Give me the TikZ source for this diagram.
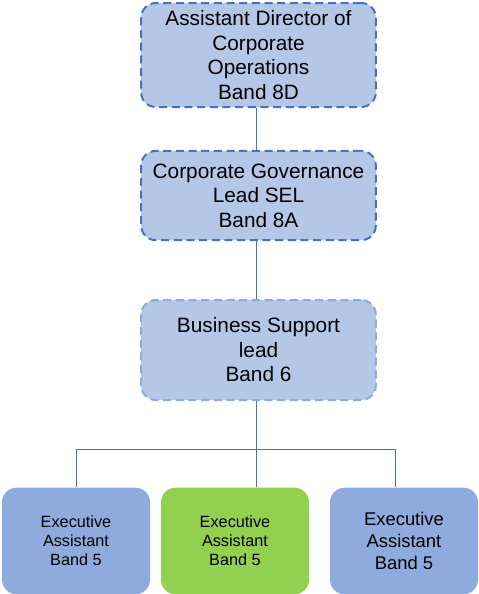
\documentclass[tikz,border=0pt]{standalone}
\usepackage{fontspec}
\setmainfont{Liberation Sans}
\usetikzlibrary{positioning}
\definecolor{darkblue}{HTML}{4472C4}
\definecolor{paleblue}{HTML}{B4C7E7}
\definecolor{midblue}{HTML}{8FAADC}
\definecolor{leafgreen}{HTML}{92D050}
\tikzset{
  headbox/.style={draw=darkblue,fill=paleblue,line width=1.5pt,dash pattern=on 6pt off 3.5pt,
    rounded corners=11pt,minimum width=176pt,align=center,inner sep=0pt,
    font=\fontsize{15.6}{18.4}\selectfont},
  staffbox/.style={fill=midblue,rounded corners=11pt,minimum width=111pt,minimum height=80pt,
    align=center,inner sep=0pt,font=\fontsize{12.2}{14.3}\selectfont},
  link/.style={draw=darkblue,line width=0.75pt}
}
\begin{document}
\begin{tikzpicture}[x=0.75pt,y=-0.75pt]
  \useasboundingbox (0,0) rectangle (479,594);
  \node[headbox,minimum height=78pt] (adco) at (258.5,55) {Assistant Director of\\Corporate\\Operations\\Band 8D};
  \node[headbox,minimum height=67pt] (cgl) at (258.5,195.5) {Corporate Governance\\Lead SEL\\Band 8A};
  \node[headbox,draw=midblue,minimum height=75pt] (bsl) at (258.5,350) {Business Support\\lead\\Band 6};
  \node[staffbox] (ea1) at (76,541) {Executive\\Assistant\\Band 5};
  \node[staffbox,fill=leafgreen] (ea2) at (235,541) {Executive\\Assistant\\Band 5};
  \node[staffbox,font=\fontsize{13.8}{16.2}\selectfont] (ea3) at (404,541) {Executive\\Assistant\\Band 5};
  \coordinate (bus) at (256,449);
  \draw[link] (adco.south -| bus) -- (cgl.north -| bus);
  \draw[link] (cgl.south -| bus) -- (bsl.north -| bus);
  \draw[link] (bsl.south -| bus) -- (ea2.north -| bus);
  \draw[link] (bus) -| (ea1.north);
  \draw[link] (bus) -| ([xshift=-6.75pt]ea3.north);
\end{tikzpicture}
\end{document}
